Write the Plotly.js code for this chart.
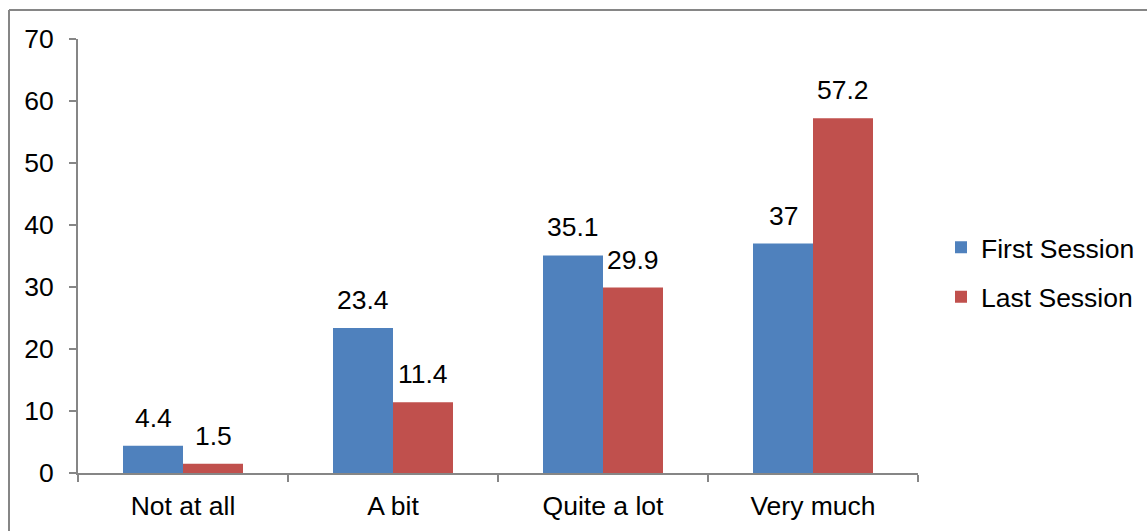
<!DOCTYPE html>
<html>
<head>
<meta charset="utf-8">
<script src="https://cdn.plot.ly/plotly-3.0.1.min.js"></script>
<style>
html,body{margin:0;padding:0;background:#fff;}
#chart{width:1147px;height:531px;}
</style>
</head>
<body>
<div id="chart"></div>
<script>
const categories = ["Not at all", "A bit", "Quite a lot", "Very much"];
const firstSession = [4.4, 23.4, 35.1, 37];
const lastSession = [1.5, 11.4, 29.9, 57.2];
const seriesNames = ["First Session", "Last Session"];
const yTicks = [0, 10, 20, 30, 40, 50, 60, 70];

const W = 1147, H = 531;
const mL = 78, mR = 229, mT = 39, mB = 58;
const pw = W - mL - mR, ph = H - mT - mB;
const font = "'Liberation Sans', Arial, sans-serif";
const fs = 26.5;
const axisColor = "#868686";

const traces = [
  {type: "bar", name: seriesNames[0], x: categories, y: firstSession,
   marker: {color: "#4F81BD"}, legendgroup: "a", hoverinfo: "none"},
  {type: "bar", name: seriesNames[1], x: categories, y: lastSession,
   marker: {color: "#C0504D"}, legendgroup: "b", hoverinfo: "none"}
];

const annotations = [];
[firstSession, lastSession].forEach((vals, si) => {
  vals.forEach((v, i) => {
    annotations.push({
      x: categories[i], y: v, xref: "x", yref: "y",
      text: String(v), showarrow: false,
      xanchor: "center", yanchor: "bottom",
      xshift: si === 0 ? -30 : 30, yshift: 11,
      font: {family: font, size: fs, color: "#000"}
    });
  });
});

const layout = {
  width: W, height: H,
  margin: {l: mL, r: mR, t: mT, b: mB, pad: 0, autoexpand: false},
  paper_bgcolor: "#fff", plot_bgcolor: "#fff",
  font: {family: font, size: fs, color: "#000"},
  barmode: "group",
  bargap: 0.4286,
  bargroupgap: 0,
  showlegend: true,
  legend: {xref: "container", yref: "container", x: 941 / W, xanchor: "left",
           y: 1 - 272 / H, yanchor: "middle",
           font: {family: font, size: fs, color: "#000"},
           traceorder: "grouped", tracegroupgap: 12,
           itemwidth: 30, bgcolor: "rgba(0,0,0,0)"},
  xaxis: {type: "category", range: [-0.5, 3.5], showline: true,
          linecolor: axisColor, linewidth: 2, ticks: "outside",
          tickson: "boundaries", ticklen: 7, tickwidth: 1.5, tickcolor: axisColor,
          showgrid: false, zeroline: false, fixedrange: true,
          ticklabelstandoff: 8,
          tickfont: {family: font, size: fs, color: "#000"}},
  yaxis: {range: [0, 70], tickvals: yTicks, showline: true,
          linecolor: axisColor, linewidth: 2, ticks: "outside",
          ticklen: 7, tickwidth: 1.5, tickcolor: axisColor,
          showgrid: false, zeroline: false, fixedrange: true,
          ticklabelstandoff: 10,
          tickfont: {family: font, size: fs, color: "#000"}},
  annotations: annotations,
  shapes: [
    {type: "line", xref: "paper", yref: "paper",
     x0: (9 - mL) / pw, x1: (1150 - mL) / pw,
     y0: 1 + (mT - 10) / ph, y1: 1 + (mT - 10) / ph,
     line: {color: axisColor, width: 2}},
    {type: "line", xref: "paper", yref: "paper",
     x0: (9 - mL) / pw, x1: (9 - mL) / pw,
     y0: 1 + (mT - 10) / ph, y1: -(mB + 5) / ph,
     line: {color: axisColor, width: 2}}
  ]
};

Plotly.newPlot("chart", traces, layout, {displayModeBar: false, staticPlot: true});
</script>
</body>
</html>
